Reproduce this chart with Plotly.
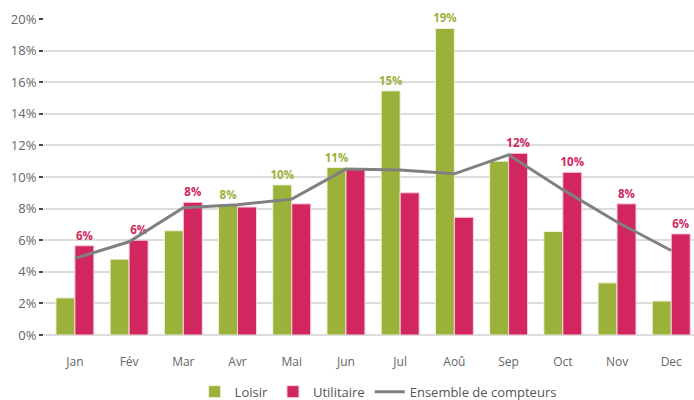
import plotly.graph_objects as go

mois = ["Jan", "Fév", "Mar", "Avr", "Mai", "Jun", "Jul", "Aoû", "Sep", "Oct", "Nov", "Dec"]
loisir = [2.35, 4.8, 6.6, 8.2, 9.5, 10.6, 15.45, 19.4, 11.0, 6.55, 3.3, 2.15]
utilitaire = [5.65, 6.0, 8.4, 8.1, 8.3, 10.5, 9.0, 7.45, 11.5, 10.3, 8.3, 6.4]
ensemble = [4.85, 5.9, 8.05, 8.25, 8.6, 10.5, 10.45, 10.2, 11.4, 9.2, 7.15, 5.35]

vert = "#9bb23a"
rose = "#d1265e"

# label only the taller bar of each month
lab_loisir = ["%d%%" % round(l) if l > u else "" for l, u in zip(loisir, utilitaire)]
lab_util = ["%d%%" % round(u) if u >= l else "" for l, u in zip(loisir, utilitaire)]

fig = go.Figure()
fig.add_trace(go.Bar(
    x=mois, y=loisir, name="Loisir",
    marker=dict(color=vert, line=dict(color="#eef3dc", width=1)),
    text=lab_loisir, textposition="outside", constraintext="none",
    textfont=dict(color=vert, size=11.5, family="Open Sans", weight="bold"),
    cliponaxis=False,
))
fig.add_trace(go.Bar(
    x=mois, y=utilitaire, name="Utilitaire",
    marker=dict(color=rose, line=dict(color="#f6d3de", width=1)),
    text=lab_util, textposition="outside", constraintext="none",
    textfont=dict(color=rose, size=11.5, family="Open Sans", weight="bold"),
    cliponaxis=False,
))
fig.add_trace(go.Scatter(
    x=mois, y=ensemble, name="Ensemble de compteurs",
    mode="lines", line=dict(color="#808080", width=3),
))

fig.update_layout(
    width=694, height=400,
    margin=dict(l=44, r=0, t=19, b=65, autoexpand=False),
    paper_bgcolor="white", plot_bgcolor="white",
    barmode="group", bargap=0.3, bargroupgap=0,
    font=dict(family="Open Sans", color="#666666", size=12),
    showlegend=True,
    legend=dict(orientation="h", x=0.514, xanchor="center", y=-0.132, yanchor="top",
                font=dict(size=13, color="#555555"), itemwidth=30),
)
fig.update_xaxes(range=[-0.57, 11.42], automargin=False, showgrid=False, showline=False,
                 ticks="", ticklabelstandoff=18, tickfont=dict(size=12, color="#666666"))
fig.update_yaxes(range=[0, 20], dtick=2, ticksuffix="%", automargin=False, showgrid=True,
                 gridcolor="#dcdcdc", gridwidth=1.5, zeroline=True,
                 zerolinecolor="#dcdcdc", zerolinewidth=1.5,
                 ticks="outside", ticklen=4, tickcolor="#444444", tickwidth=1.5,
                 tickfont=dict(size=13, color="#666666"))

# drop the default page margin so the figure sits at the window corner
fig.write_html("out.html", config={"displayModeBar": False},
               post_script="document.body.style.margin='0';")
